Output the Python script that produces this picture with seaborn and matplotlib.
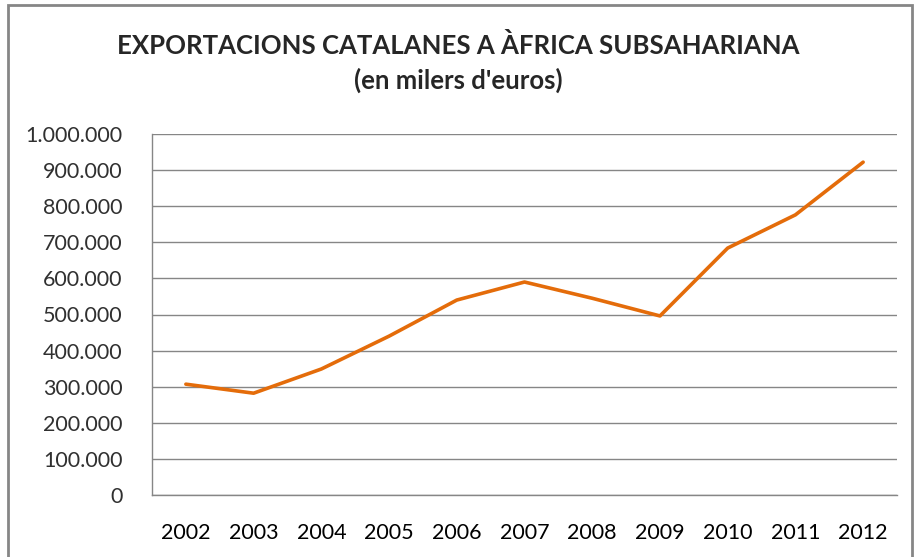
import matplotlib.pyplot as plt
import matplotlib.ticker as mticker
import seaborn as sns
import pandas as pd
from matplotlib.patches import Rectangle

# Data (thousands of euros)
years = ["2002", "2003", "2004", "2005", "2006", "2007", "2008", "2009", "2010", "2011", "2012"]
exports = [307000, 282000, 349000, 440000, 540000, 590000, 545000, 496000, 684000, 776000, 922000]

df = pd.DataFrame({"pos": range(len(years)), "value": exports})

sns.set_style("white")
plt.rcParams["font.family"] = ["Lato", "DejaVu Sans"]

fig = plt.figure(figsize=(9.17, 5.57), dpi=100)
ax = fig.add_axes([152 / 917, 1 - 495 / 557, (897 - 152) / 917, (495 - 134) / 557])

# Chart frame
fig.patches.append(Rectangle((8 / 917, -0.05), (912 - 8) / 917, 1.05 - 5 / 557,
                             transform=fig.transFigure, fill=False,
                             edgecolor="#868686", linewidth=2))

sns.lineplot(data=df, x="pos", y="value", ax=ax, color="#E46C0A", linewidth=2.6)

ax.set_xlim(-0.5, len(years) - 0.5)
ax.set_ylim(0, 1000000)
ax.yaxis.set_major_locator(mticker.MultipleLocator(100000))
ax.yaxis.set_major_formatter(mticker.FuncFormatter(lambda v, p: f"{int(v):,}".replace(",", ".")))
ax.grid(axis="y", color="#868686", linewidth=1)
ax.set_axisbelow(True)

ax.set_xticks(range(len(years)))
ax.set_xticklabels(years)
ax.set_xticks([i - 0.5 for i in range(len(years) + 1)], minor=True)
ax.tick_params(axis="x", which="major", length=0, pad=20, labelsize=15.5)
ax.tick_params(axis="x", which="minor", length=7, color="#868686", width=1)
ax.tick_params(axis="y", length=7, color="#868686", width=1, labelsize=15.5, pad=14,
               labelcolor="#303030")
ax.tick_params(axis="x", labelcolor="black")

for s in ["top", "right"]:
    ax.spines[s].set_visible(False)
for s in ["left", "bottom"]:
    ax.spines[s].set_color("#868686")
    ax.spines[s].set_linewidth(1)

ax.set_xlabel("")
ax.set_ylabel("")

fig.text(0.5, 1 - 45 / 557, "EXPORTACIONS CATALANES A ÀFRICA SUBSAHARIANA",
         ha="center", va="center", fontsize=18.5, fontweight="bold")
fig.text(0.5, 1 - 80 / 557, "(en milers d'euros)",
         ha="center", va="center", fontsize=18.5, fontweight="bold")

fig.savefig("out.png", dpi=100)
